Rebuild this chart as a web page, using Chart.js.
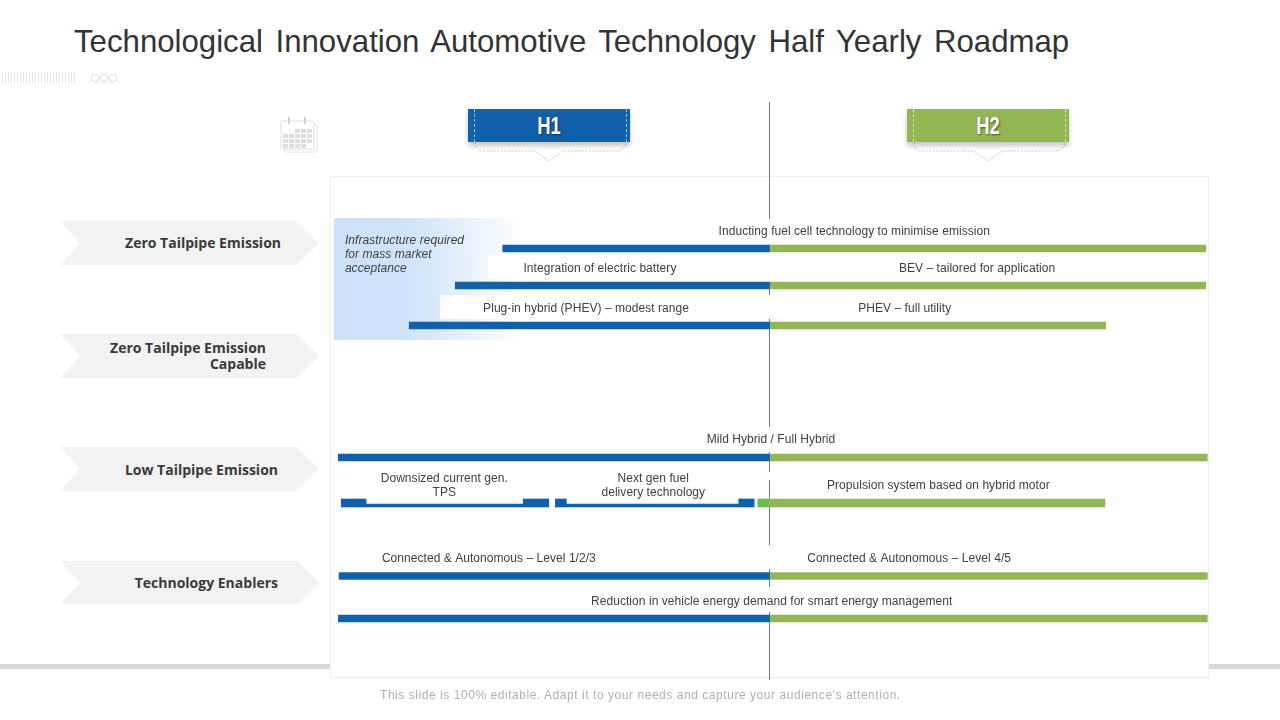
<!DOCTYPE html>
<html>
<head>
<meta charset="utf-8">
<title>Half Yearly Roadmap</title>
<script src="https://cdn.jsdelivr.net/npm/chart.js@4"></script>
<style>
html, body { margin: 0; padding: 0; background: #fff; }
#slide { position: relative; width: 1280px; height: 720px; overflow: hidden; font-family: 'Liberation Sans', sans-serif; }
#slide > * { position: absolute; }
#title { left: 74px; top: 22px; font-size: 31.2px; line-height: 40px; color: #333; word-spacing: 3.85px; white-space: nowrap; }
#band { left: 0; top: 664px; width: 1280px; height: 5px; background: #d9d9d9; }
#panel { left: 330px; top: 176px; width: 877px; height: 500px; background: #fff; border: 1px solid #eee; }
#decor { left: 0; top: 0; }
canvas { left: 0; top: 0; }
.stage { top: 109px; width: 162px; height: 33px; text-align: center; color: #fff; font: bold 22px/35px 'Liberation Sans', sans-serif; text-shadow: 1px 1px 2px rgba(0,0,0,.55); box-shadow: 0 4px 5px rgba(0,0,0,.22); }
.stage span { display: inline-block; transform: scale(.84, 1.05); }
.stage::before { content: ''; position: absolute; left: 6px; right: 3px; top: 0; bottom: 0; border-left: 1px dashed rgba(255,255,255,.6); border-right: 1px dashed rgba(255,255,255,.6); }
.row-label { font: bold 14px/16px 'Open Sans', sans-serif; color: #3a3a3a; text-align: right; white-space: nowrap; }
#note { left: 380px; top: 688px; font-size: 12px; line-height: 15px; color: #b0b0b0; letter-spacing: .55px; white-space: nowrap; }
</style>
</head>
<body>
<div id="slide">
  <div id="band"></div>
  <div id="panel"></div>
  <svg id="decor" width="1280" height="720"></svg>
  <div id="title">Technological Innovation Automotive Technology Half Yearly Roadmap</div>
  <div class="stage" style="left:468px;background:#1160ac"><span>H1</span></div>
  <div class="stage" style="left:907px;background:#93b655"><span>H2</span></div>
  <div class="row-label" style="right:999px;top:235px">Zero Tailpipe Emission</div>
  <div class="row-label" style="right:1014px;top:340px">Zero Tailpipe Emission<br>Capable</div>
  <div class="row-label" style="right:1002px;top:462px">Low Tailpipe Emission</div>
  <div class="row-label" style="right:1002px;top:575px">Technology Enablers</div>
  <canvas id="roadmap" width="1280" height="720"></canvas>
  <div id="note">This slide is 100% editable. Adapt it to your needs and capture your audience's attention.</div>
</div>
<script>
// x axis is months of the year (0-12, H1 | H2 split at 6), y axis is lane position (0-100)
const midYear = 6;

const laneRows = [14.3, 21.7, 29.7, 56.1, 79.8, 88.3];
const rowStart = [2.35, 1.70, 1.07, 0.10, 0.11, 0.10];
const rowEnd = [11.97, 11.97, 10.60, 11.99, 11.99, 11.99];

// the split row under "Mild Hybrid"
const splitLane = 65.2;
const splitThinLane = 65.7;
const splitCaps = [[0.14, 0.48], [2.63, 2.98], [3.07, 3.22], [5.58, 5.79]];
const splitThin = [[0.48, 2.63], [3.22, 5.58]];
const splitLeadIn = [5.84, 6];
const splitEnd = 10.59;

const labelText = [
  ['Inducting fuel cell technology to minimise emission'],
  ['Integration of electric battery'],
  ['BEV \u2013 tailored for application'],
  ['Plug-in hybrid (PHEV) \u2013 modest range'],
  ['PHEV \u2013 full utility'],
  ['Mild Hybrid / Full Hybrid'],
  ['Downsized current gen.', 'TPS'],
  ['Next gen fuel', 'delivery technology'],
  ['Propulsion system based on hybrid motor'],
  ['Connected & Autonomous \u2013 Level 1/2/3'],
  ['Connected & Autonomous \u2013 Level 4/5'],
  ['Reduction in vehicle energy demand for smart energy management']
];
const labelMonth = [7.16, 3.68, 8.84, 3.49, 7.85, 6.02, 1.55, 4.41, 8.31, 2.16, 7.91, 6.03];
const labelLane = [10.9, 18.3, 18.3, 26.3, 26.3, 52.6, 60.4, 60.4, 61.8, 76.3, 76.3, 84.9];

const noteLines = ['Infrastructure required', 'for mass market', 'acceptance'];
const noteLane = 12.8;

// where the centre line shows between the labels (lanes)
const dividerSegments = [[-15, 8.4], [21, 23.6], [28.4, 50], [55, 59], [60.6, 73.6], [78.4, 82], [87, 100.6]];

const BLUE = '#1160ac';
const GREEN = '#93b655';

const backdrop = {
  id: 'backdrop',
  beforeDatasetsDraw(chart) {
    const { ctx, scales: { x, y } } = chart;
    ctx.save();

    // fade behind the infrastructure note
    const left = x.getPixelForValue(0.04), right = x.getPixelForValue(2.65);
    const top = y.getPixelForValue(8.2), bottom = y.getPixelForValue(32.6);
    const fade = ctx.createLinearGradient(left, 0, right, 0);
    fade.addColorStop(0, '#cde2fa');
    fade.addColorStop(0.4, '#cfe3fa');
    fade.addColorStop(1, '#ffffff');
    ctx.fillStyle = fade;
    ctx.fillRect(left, top, right - left, bottom - top);

    // white label strips cut into it
    ctx.fillStyle = '#fff';
    ctx.fillRect(x.getPixelForValue(2.15), y.getPixelForValue(15.6), 70, y.getPixelForValue(20.4) - y.getPixelForValue(15.6));
    ctx.fillRect(x.getPixelForValue(1.49), y.getPixelForValue(23.6), 120, y.getPixelForValue(28.4) - y.getPixelForValue(23.6));

    ctx.strokeStyle = '#777';
    ctx.lineWidth = 1;
    const mx = Math.round(x.getPixelForValue(midYear)) - 0.5;
    dividerSegments.forEach(s => {
      ctx.beginPath();
      ctx.moveTo(mx, y.getPixelForValue(s[0]));
      ctx.lineTo(mx, y.getPixelForValue(s[1]));
      ctx.stroke();
    });
    ctx.restore();
  },
  afterDatasetsDraw(chart) {
    const { ctx, scales: { x, y } } = chart;
    ctx.save();
    ctx.textAlign = 'center';
    ctx.textBaseline = 'middle';
    ctx.letterSpacing = '0.05px';
    ctx.font = "12px 'Liberation Sans', sans-serif";
    ctx.fillStyle = '#404040';
    labelText.forEach((lines, i) => {
      lines.forEach((line, n) => {
        ctx.fillText(line, x.getPixelForValue(labelMonth[i]), y.getPixelForValue(labelLane[i] + n * 2.8));
      });
    });
    ctx.textAlign = 'left';
    ctx.font = "italic 12px 'Liberation Sans', sans-serif";
    noteLines.forEach((line, n) => {
      ctx.fillText(line, x.getPixelForValue(0.19), y.getPixelForValue(noteLane + n * 2.8));
    });
    ctx.restore();
  }
};

new Chart(document.getElementById('roadmap').getContext('2d'), {
  type: 'bar',
  data: {
    datasets: [
      { label: 'H1', backgroundColor: BLUE, barThickness: 7, data: laneRows.map((lane, i) => ({ x: [rowStart[i], midYear], y: lane })) },
      { label: 'H2', backgroundColor: GREEN, barThickness: 7, data: laneRows.map((lane, i) => ({ x: [midYear, rowEnd[i]], y: lane })) },
      { label: 'H1 split caps', backgroundColor: BLUE, barThickness: 8, data: splitCaps.map(c => ({ x: c, y: splitLane })) },
      { label: 'H1 split thin', backgroundColor: BLUE, barThickness: 3, data: splitThin.map(c => ({ x: c, y: splitThinLane })) },
      { label: 'H2 split', backgroundColor: GREEN, barThickness: 8, data: [{ x: [midYear, splitEnd], y: splitLane }] },
      { label: 'Lead in', backgroundColor: '#6abf4b', barThickness: 8, data: [{ x: splitLeadIn, y: splitLane }] }
    ]
  },
  options: {
    indexAxis: 'y',
    responsive: false,
    animation: false,
    devicePixelRatio: 1,
    layout: { padding: { left: 331, right: 72, top: 177, bottom: 43 } },
    datasets: { bar: { grouped: false } },
    scales: {
      x: { type: 'linear', min: 0, max: 12, display: false },
      y: { type: 'linear', min: 0, max: 100, reverse: true, offset: false, display: false }
    },
    plugins: { legend: { display: false }, tooltip: { enabled: false } }
  },
  plugins: [backdrop]
});

// static slide furniture: chevrons, header bubbles, ticks, calendar
const svgParts = [];
[221, 334, 447, 561].forEach(top => {
  const h = top === 561 ? 43 : 44;
  svgParts.push(`<polygon points="60,${top} 297,${top} 319,${top + h / 2} 297,${top + h} 60,${top + h} 80,${top + h / 2}" fill="#f2f2f2"/>`);
});
[468, 907].forEach(left => {
  svgParts.push(`<path d="M${left + 7} 142 V144 Q${left + 7} 151 ${left + 15} 151 H${left + 67} L${left + 81} 161 L${left + 95} 151 H${left + 147} Q${left + 156} 151 ${left + 158} 144 V142" fill="none" stroke="#c8c8c8" stroke-width="1" stroke-dasharray="2 1.5"/>`);
});
for (let px = 2; px < 76; px += 3) {
  svgParts.push(`<line x1="${px + 0.5}" y1="72" x2="${px + 0.5}" y2="83" stroke="#e6e6e6"/>`);
}
[95, 104, 113].forEach(cx => {
  svgParts.push(`<circle cx="${cx}" cy="78" r="4" fill="none" stroke="#dcdcdc"/>`);
});
svgParts.push('<rect x="284" y="124" width="33" height="28" rx="2" fill="#fff" stroke="#e2e2e2"/>');
svgParts.push('<rect x="281" y="121" width="33" height="28" rx="2" fill="#fff" stroke="#dcdcdc"/>');
svgParts.push('<line x1="289" y1="117" x2="289" y2="124" stroke="#cfcfcf" stroke-width="2"/><line x1="305" y1="117" x2="305" y2="124" stroke="#cfcfcf" stroke-width="2"/>');
for (let row = 0; row < 4; row++) {
  for (let col = 0; col < 5; col++) {
    if ((row === 0 && col < 2) || (row === 3 && col > 3)) continue;
    svgParts.push(`<rect x="${283 + col * 6}" y="${129 + row * 5}" width="5" height="4" fill="#dedede"/>`);
  }
}
document.getElementById('decor').innerHTML = svgParts.join('');
</script>
</body>
</html>
